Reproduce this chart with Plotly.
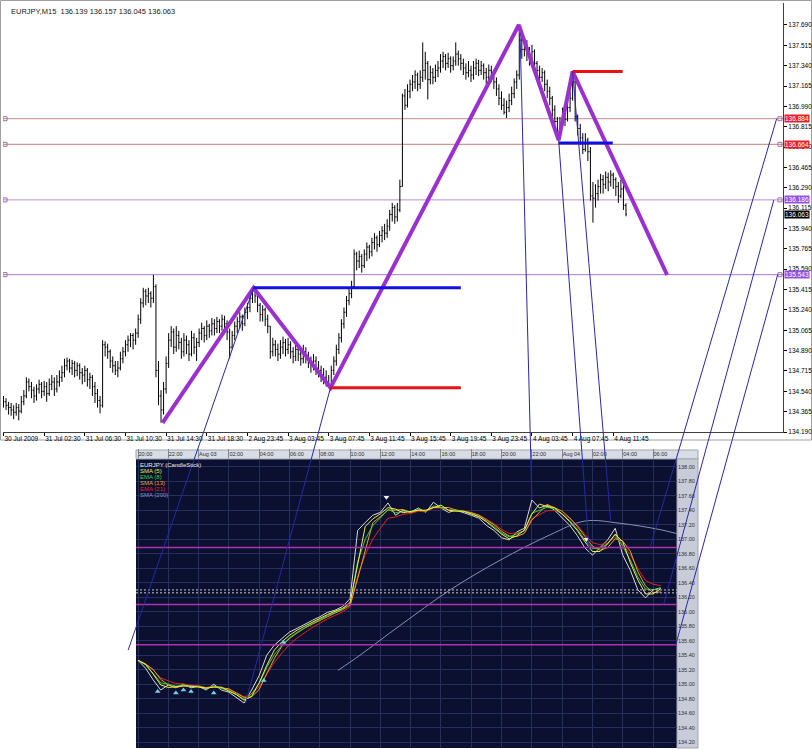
import plotly.graph_objects as go
import pandas as pd

W, H = 812, 750

# ---------------- top chart (EURJPY, M15) ----------------
top_tick_bars = [0, 16, 32, 48, 64, 80, 96, 112, 128, 144, 160, 176, 192, 208, 224, 240]
top_tick_labels = ["30 Jul 2009", "31 Jul 02:30", "31 Jul 06:30", "31 Jul 10:30", "31 Jul 14:30",
                   "31 Jul 18:30", "2 Aug 23:45", "3 Aug 03:45", "3 Aug 07:45", "3 Aug 11:45",
                   "3 Aug 15:45", "3 Aug 19:45", "3 Aug 23:45", "4 Aug 03:45", "4 Aug 07:45",
                   "4 Aug 11:45"]
top_price_ticks = [134.190, 134.365, 134.540, 134.715, 134.890, 135.065, 135.240, 135.415,
                   135.590, 135.765, 135.940, 136.115, 136.290, 136.465, 136.640, 136.815,
                   136.990, 137.165, 137.340, 137.515, 137.690]

first_open = 134.47
highs = [134.50, 134.48, 134.45, 134.44, 134.42, 134.44, 134.43, 134.50, 134.55, 134.66,
         134.65, 134.62, 134.58, 134.60, 134.64, 134.62, 134.63, 134.62, 134.65, 134.68,
         134.66, 134.68, 134.72, 134.76, 134.82, 134.83, 134.82, 134.81, 134.80, 134.79,
         134.78, 134.74, 134.76, 134.74, 134.70, 134.68, 134.62, 134.56, 134.50, 134.98,
         134.97, 134.95, 134.90, 134.84, 134.80, 134.80, 134.88, 134.92, 134.98, 135.02,
         135.04, 135.04, 135.08, 135.20, 135.34, 135.43, 135.42, 135.43, 135.40, 135.54,
         135.46, 134.80, 134.55, 134.62, 134.84, 135.04, 135.10, 135.08, 135.10, 135.06,
         135.00, 135.04, 135.02, 134.98, 135.06, 135.04, 135.00, 135.08, 135.13, 135.10,
         135.15, 135.12, 135.17, 135.16, 135.18, 135.16, 135.20, 135.19, 135.15, 135.08,
         135.06, 135.14, 135.18, 135.22, 135.20, 135.26, 135.30, 135.38, 135.43, 135.42,
         135.38, 135.30, 135.28, 135.26, 135.20, 135.10, 135.00, 134.98, 134.95, 134.98,
         135.01, 134.99, 135.00, 134.97, 134.92, 134.96, 134.94, 134.90, 134.94, 134.92,
         134.88, 134.84, 134.86, 134.84, 134.80, 134.76, 134.74, 134.72, 134.68, 134.76,
         134.84, 134.94, 135.04, 135.16, 135.26, 135.36, 135.42, 135.49, 135.76, 135.74,
         135.75, 135.72, 135.76, 135.82, 135.80, 135.86, 135.90, 135.88, 135.92, 135.96,
         135.98, 136.02, 136.10, 136.16, 136.14, 136.16, 136.36, 137.10, 137.14, 137.18,
         137.22, 137.26, 137.30, 137.28, 137.30, 137.54, 137.46, 137.38, 137.34, 137.32,
         137.35, 137.38, 137.44, 137.46, 137.44, 137.45, 137.42, 137.42, 137.54, 137.47,
         137.44, 137.40, 137.36, 137.38, 137.34, 137.38, 137.40, 137.39, 137.38, 137.36,
         137.32, 137.35, 137.34, 137.30, 137.24, 137.18, 137.12, 137.06, 137.04, 137.10,
         137.16, 137.23, 137.30, 137.69, 137.62, 137.58, 137.56, 137.50, 137.52, 137.48,
         137.38, 137.34, 137.32, 137.30, 137.22, 137.16, 137.08, 137.00, 136.90, 136.90,
         136.98, 136.96, 137.04, 137.12, 137.29, 137.22, 136.92, 136.84, 136.76, 136.76,
         136.72, 136.64, 136.34, 136.32, 136.36, 136.41, 136.40, 136.43, 136.42, 136.44,
         136.42, 136.38, 136.34, 136.36, 136.32, 136.157]
lows = [134.40, 134.38, 134.34, 134.33, 134.30, 134.33, 134.29, 134.35, 134.42, 134.48,
        134.54, 134.48, 134.44, 134.46, 134.52, 134.48, 134.50, 134.45, 134.50, 134.55,
        134.50, 134.53, 134.58, 134.62, 134.66, 134.72, 134.70, 134.68, 134.66, 134.67,
        134.64, 134.60, 134.62, 134.58, 134.56, 134.50, 134.44, 134.40, 134.35, 134.40,
        134.84, 134.82, 134.74, 134.70, 134.68, 134.66, 134.72, 134.78, 134.84, 134.88,
        134.92, 134.90, 134.94, 135.00, 135.12, 135.26, 135.28, 135.30, 135.26, 135.30,
        134.66, 134.42, 134.27, 134.34, 134.52, 134.74, 134.92, 134.86, 134.88, 134.90,
        134.82, 134.84, 134.86, 134.80, 134.84, 134.86, 134.80, 134.92, 134.98, 134.96,
        134.98, 135.00, 135.02, 135.02, 135.04, 135.04, 135.06, 135.06, 134.98, 134.82,
        134.90, 134.98, 135.04, 135.08, 135.06, 135.10, 135.16, 135.22, 135.30, 135.30,
        135.22, 135.14, 135.14, 135.10, 135.04, 134.82, 134.84, 134.84, 134.80, 134.82,
        134.86, 134.84, 134.86, 134.82, 134.78, 134.80, 134.80, 134.76, 134.78, 134.78,
        134.74, 134.70, 134.72, 134.68, 134.66, 134.62, 134.60, 134.58, 134.57, 134.58,
        134.68, 134.76, 134.86, 134.96, 135.08, 135.18, 135.28, 135.34, 135.42, 135.58,
        135.60, 135.56, 135.60, 135.66, 135.68, 135.70, 135.76, 135.74, 135.78, 135.82,
        135.84, 135.86, 135.92, 136.00, 135.98, 136.00, 136.08, 136.30, 136.96, 136.98,
        137.06, 137.12, 137.14, 137.12, 137.14, 137.20, 137.22, 137.05, 137.18, 137.18,
        137.20, 137.24, 137.28, 137.32, 137.30, 137.32, 137.28, 137.30, 137.34, 137.34,
        137.30, 137.26, 137.22, 137.24, 137.20, 137.22, 137.26, 137.25, 137.26, 137.22,
        137.18, 137.20, 137.20, 137.14, 137.08, 137.00, 136.96, 136.92, 136.89, 136.94,
        137.00, 137.06, 137.14, 137.22, 137.40, 137.42, 137.38, 137.34, 137.36, 137.30,
        137.24, 137.18, 137.20, 137.12, 137.06, 137.00, 136.90, 136.80, 136.71, 136.74,
        136.80, 136.82, 136.86, 136.94, 137.04, 136.86, 136.74, 136.66, 136.58, 136.60,
        136.52, 136.18, 135.99, 136.12, 136.18, 136.24, 136.24, 136.28, 136.26, 136.30,
        136.28, 136.22, 136.16, 136.20, 136.10, 136.045]
closes = [134.45, 134.42, 134.40, 134.38, 134.36, 134.40, 134.37, 134.45, 134.50, 134.62,
          134.58, 134.55, 134.50, 134.56, 134.60, 134.54, 134.58, 134.52, 134.60, 134.62,
          134.56, 134.62, 134.66, 134.70, 134.76, 134.80, 134.74, 134.78, 134.72, 134.76,
          134.70, 134.68, 134.72, 134.64, 134.66, 134.58, 134.52, 134.46, 134.42, 134.94,
          134.92, 134.88, 134.80, 134.76, 134.72, 134.74, 134.82, 134.88, 134.94, 134.98,
          135.02, 134.98, 135.04, 135.16, 135.30, 135.40, 135.36, 135.38, 135.34, 135.44,
          134.72, 134.50, 134.38, 134.56, 134.78, 134.98, 135.05, 134.92, 135.02, 134.96,
          134.88, 134.98, 134.94, 134.86, 135.00, 134.92, 134.96, 135.04, 135.08, 135.02,
          135.10, 135.06, 135.12, 135.08, 135.14, 135.10, 135.16, 135.12, 135.05, 134.92,
          135.02, 135.10, 135.14, 135.18, 135.12, 135.22, 135.26, 135.34, 135.40, 135.36,
          135.28, 135.20, 135.24, 135.16, 135.10, 134.88, 134.94, 134.90, 134.86, 134.92,
          134.96, 134.90, 134.94, 134.88, 134.84, 134.90, 134.86, 134.82, 134.88, 134.84,
          134.80, 134.76, 134.80, 134.74, 134.72, 134.68, 134.66, 134.62, 134.60, 134.72,
          134.80, 134.90, 135.00, 135.12, 135.22, 135.32, 135.38, 135.44, 135.72, 135.66,
          135.70, 135.62, 135.72, 135.78, 135.74, 135.82, 135.86, 135.80, 135.88, 135.92,
          135.90, 135.96, 136.06, 136.12, 136.04, 136.10, 136.30, 137.08, 137.00, 137.12,
          137.18, 137.20, 137.26, 137.18, 137.24, 137.30, 137.36, 137.22, 137.28, 137.24,
          137.30, 137.32, 137.38, 137.42, 137.36, 137.40, 137.34, 137.38, 137.44, 137.40,
          137.36, 137.32, 137.28, 137.30, 137.26, 137.32, 137.36, 137.30, 137.34, 137.28,
          137.24, 137.30, 137.26, 137.20, 137.14, 137.06, 137.00, 136.94, 136.98, 137.04,
          137.10, 137.20, 137.26, 137.56, 137.48, 137.52, 137.44, 137.40, 137.46, 137.36,
          137.30, 137.24, 137.28, 137.18, 137.12, 137.06, 136.96, 136.86, 136.78, 136.84,
          136.92, 136.88, 136.98, 137.06, 137.20, 136.90, 136.80, 136.72, 136.62, 136.70,
          136.60, 136.22, 136.20, 136.24, 136.30, 136.36, 136.32, 136.38, 136.34, 136.40,
          136.36, 136.30, 136.22, 136.28, 136.139, 136.063]
bars = list(range(len(closes)))
opens = [first_open] + closes[:-1]
highs = [max(h, o, c) for h, o, c in zip(highs, opens, closes)]
lows = [min(l, o, c) for l, o, c in zip(lows, opens, closes)]

# wave drawing (bar index, price)
zigzag_bar = [62.6, 98.4, 128.7, 202.8, 218.5, 224.0, 261.2]
zigzag_price = [134.268, 135.43, 134.57, 137.69, 136.70, 137.29, 135.54]
blue_segments = [((98.4, 180.0), 135.43), ((218.5, 239.8), 136.675)]
red_segments = [((128.7, 180.0), 134.57), ((224.0, 243.7), 137.29)]
level_prices = [136.884, 136.664, 136.186, 135.543]
level_colors = ["#c88c8c", "#c87878", "#b48ce0", "#a878d8"]
level_label_bg = ["#e8202a", "#e8202a", "#9650e0", "#9650e0"]
last_price = 136.063

# ---------------- bottom chart (5-min style view) ----------------
bot_tick_hours = list(range(0, 36, 2))
bot_tick_labels = ["20:00", "22:00", "Aug 03", "02:00", "04:00", "06:00", "08:00", "10:00", "12:00",
                   "14:00", "16:00", "18:00", "20:00", "22:00", "Aug 04", "02:00", "04:00", "06:00"]
bot_price_ticks = [134.20, 134.40, 134.60, 134.80, 135.00, 135.20, 135.40, 135.60, 135.80, 136.00,
                   136.20, 136.40, 136.60, 136.80, 137.00, 137.20, 137.40, 137.60, 137.80, 138.00]
bot_hours = [0, 0.5, 1, 1.5, 2, 2.5, 3, 3.5, 4, 4.5, 5, 5.5, 6, 6.5, 7, 7.5, 8, 8.5, 9, 9.5,
             10, 10.5, 11, 11.5, 12, 12.5, 13, 13.5, 14, 14.5, 15, 15.5, 16, 16.5, 17, 17.5,
             18, 18.5, 19, 19.5, 20, 20.5, 21, 21.5, 22, 22.5, 23, 23.5, 24, 24.5, 25, 25.5,
             26, 26.5, 27, 27.5, 28, 28.5, 29, 29.5, 30, 30.5, 31, 31.5, 32, 32.5, 33, 33.5,
             34, 34.5]
bot_price = [135.33, 135.22, 135.06, 134.92, 134.99, 134.95, 135.00, 134.95, 134.97, 134.92,
             135.00, 134.92, 134.89, 134.82, 134.74, 134.92, 135.12, 135.40, 135.54, 135.63,
             135.72, 135.77, 135.83, 135.88, 135.93, 135.99, 136.02, 136.07, 136.18, 137.12,
             137.23, 137.33, 137.37, 137.50, 137.33, 137.40, 137.37, 137.43, 137.37, 137.51,
             137.43, 137.37, 137.40, 137.37, 137.33, 137.29, 137.19, 137.12, 137.02, 136.99,
             137.10, 137.15, 137.54, 137.43, 137.47, 137.40, 137.29, 137.19, 137.05, 136.88,
             136.78, 136.88, 136.99, 137.15, 136.78, 136.57, 136.30, 136.19, 136.30, 136.33]
sma200_hours = [13.2, 14.65, 17.3, 20.6, 23.9, 27.2, 29.5, 31.8, 34.5, 36.4]
sma200_price = [135.19, 135.40, 135.81, 136.30, 136.71, 137.06, 137.25, 137.22, 137.13, 137.03]
bot_levels = [136.884, 136.10, 135.543]
bot_bidask = [136.30, 136.26]
# small signal markers on the lower chart
bot_up_marker_hours = [1.3, 2.5, 3.0, 3.5, 5.0, 8.3, 9.6]
bot_up_marker_price = [134.90, 134.88, 134.92, 134.90, 134.88, 135.05, 135.58]
bot_dn_marker_hours = [16.4, 29.6]
bot_dn_marker_price = [137.58, 137.00]

# connectors: (top bar, top price) -> (bottom hour, bottom price)
connectors = [((98.4, 135.43), (-0.65, 135.47)),
              ((128.7, 134.57), (7.1, 134.74)),
              ((203.3, 137.62), (26.0, 137.56)),
              ((218.5, 136.70), (29.8, 136.80)),
              ((224.0, 137.29), (31.2, 137.26))]
connectors_right = [((304.3, 136.884), (33.8, 136.884)),
                    ((303.2, 136.186), (34.7, 136.10)),
                    ((304.7, 135.543), (35.5, 135.543))]

# ---------------- geometry (pixels of the 812x750 canvas) ----------------
TX = (3, 783); TY = (3, 432)
TXR = [-0.2, 306.8]; TYR = [134.190, 137.879]
BX = (136, 677); BY = (459, 748)
BXR = [-0.132, 35.58]; BYR = [134.12, 138.106]


def dom_x(px):
    return [px[0] / W, px[1] / W]


def dom_y(py):
    return [1 - py[1] / H, 1 - py[0] / H]


def to_paper(v, rng, dom):
    return dom[0] + (v - rng[0]) / (rng[1] - rng[0]) * (dom[1] - dom[0])


FONT = "Liberation Sans"
fig = go.Figure()

fig.add_trace(go.Ohlc(x=bars, open=opens, high=highs, low=lows, close=closes,
                      increasing_line_color="black", decreasing_line_color="black",
                      line_width=1, tickwidth=0.4, hoverinfo="skip", xaxis="x", yaxis="y"))

fig.add_trace(go.Scatter(x=zigzag_bar, y=zigzag_price, mode="lines",
                         line=dict(color="#9b30d0", width=4), hoverinfo="skip"))
for (x0, x1), p in blue_segments:
    fig.add_trace(go.Scatter(x=[x0, x1], y=[p, p], mode="lines",
                             line=dict(color="#1010e0", width=3), hoverinfo="skip"))
for (x0, x1), p in red_segments:
    fig.add_trace(go.Scatter(x=[x0, x1], y=[p, p], mode="lines",
                             line=dict(color="#e81010", width=3), hoverinfo="skip"))

shapes = []
annotations = []
for p, c, bg in zip(level_prices, level_colors, level_label_bg):
    shapes.append(dict(type="line", xref="x domain", yref="y", x0=0, x1=1, y0=p, y1=p,
                       line=dict(color=c, width=1), layer="below"))
    annotations.append(dict(xref="x domain", yref="y", x=1.0, y=p, text="%.3f" % p,
                            showarrow=False, xanchor="left", yanchor="middle", xshift=1,
                            bgcolor=bg, font=dict(color="white", size=6.5, family=FONT),
                            borderpad=0))
fig.add_trace(go.Scatter(x=[0.6] * len(level_prices) + [305.6] * len(level_prices),
                         y=level_prices + level_prices, mode="markers",
                         marker=dict(symbol="square-open", size=4, color="#a070a0", line=dict(width=1)),
                         hoverinfo="skip"))
annotations.append(dict(xref="x domain", yref="y", x=1.0, y=last_price, text="%.3f" % last_price,
                        showarrow=False, xanchor="left", yanchor="middle", xshift=1,
                        bgcolor="black", font=dict(color="white", size=6.5, family=FONT),
                        borderpad=0))
annotations.append(dict(xref="x domain", yref="y domain", x=0.008, y=0.995,
                        text="EURJPY,M15  136.139 136.157 136.045 136.063", showarrow=False,
                        xanchor="left", yanchor="top",
                        font=dict(color="#202020", size=7.5, family=FONT)))

# ---- bottom chart ----
s = pd.Series(bot_price)
sma5 = s.rolling(2, min_periods=1).mean()
ema8 = s.ewm(span=2.5, adjust=False).mean()
sma13 = s.rolling(3, min_periods=1).mean()
ema21 = s.ewm(span=4, adjust=False).mean()

for ser, col, wd in [(s, "#d8d8d8", 1), (ema21, "#e02020", 1), (sma13, "#f0a020", 1),
                     (ema8, "#30d030", 1), (sma5, "#f0f040", 1)]:
    fig.add_trace(go.Scatter(x=bot_hours, y=list(ser), mode="lines", line=dict(color=col, width=wd),
                             xaxis="x2", yaxis="y2", hoverinfo="skip"))
fig.add_trace(go.Scatter(x=sma200_hours, y=sma200_price, mode="lines",
                         line=dict(color="#8890b8", width=1, shape="spline"),
                         xaxis="x2", yaxis="y2", hoverinfo="skip"))
fig.add_trace(go.Scatter(x=bot_up_marker_hours, y=bot_up_marker_price, mode="markers",
                         marker=dict(symbol="triangle-up", size=5, color="#70d0f0"),
                         xaxis="x2", yaxis="y2", hoverinfo="skip"))
fig.add_trace(go.Scatter(x=bot_dn_marker_hours, y=bot_dn_marker_price, mode="markers",
                         marker=dict(symbol="triangle-down", size=5, color="#f0f0f0"),
                         xaxis="x2", yaxis="y2", hoverinfo="skip"))

shapes.append(dict(type="rect", xref="x2 domain", yref="y2 domain", x0=0, x1=1, y0=0, y1=1,
                   fillcolor="#0b1030", line=dict(width=0), layer="below"))
for p in bot_levels:
    shapes.append(dict(type="line", xref="x2 domain", yref="y2", x0=0, x1=1, y0=p, y1=p,
                       line=dict(color="#b030b0", width=1.5)))
for p in bot_bidask:
    shapes.append(dict(type="line", xref="x2 domain", yref="y2", x0=0, x1=1, y0=p, y1=p,
                       line=dict(color="#c8c8c8", width=1, dash="2px,2px")))
# header strip and right price panel of the lower chart
shapes.append(dict(type="rect", xref="paper", yref="paper", x0=BX[0] / W, x1=698 / W,
                   y0=1 - BY[0] / H, y1=1 - 450 / H, fillcolor="#d8dce4",
                   line=dict(color="#a0a4b0", width=1), layer="below"))
shapes.append(dict(type="rect", xref="paper", yref="paper", x0=BX[1] / W, x1=698 / W,
                   y0=1 - BY[1] / H, y1=1 - BY[0] / H, fillcolor="#c8ccd8",
                   line=dict(color="#a0a4b0", width=1), layer="below"))

legend_items = [("EURJPY (CandleStick)", "#e8e8e8"), ("SMA (5)", "#f0f040"), ("EMA (8)", "#30d030"),
                ("SMA (13)", "#f0a020"), ("EMA (21)", "#e02020"), ("SMA (200)", "#8890d0")]
for i, (t, c) in enumerate(legend_items):
    annotations.append(dict(xref="x2 domain", yref="y2 domain", x=0.004, y=1 - 0.005 - i * 0.0205, text=t,
                            showarrow=False, xanchor="left", yanchor="top",
                            font=dict(color=c, size=6, family=FONT)))

# connectors
tdx, tdy, bdx, bdy = dom_x(TX), dom_y(TY), dom_x(BX), dom_y(BY)
for (tb, tp), (bh, bp) in connectors + connectors_right:
    shapes.append(dict(type="line", xref="paper", yref="paper",
                       x0=to_paper(tb, TXR, tdx), y0=to_paper(tp, TYR, tdy),
                       x1=to_paper(bh, BXR, bdx), y1=to_paper(bp, BYR, bdy),
                       line=dict(color="#2828a8", width=1)))

# outer frame of the top chart
shapes.append(dict(type="rect", xref="paper", yref="paper", x0=0.5 / W, x1=811.5 / W, y0=1 - 440 / H,
                   y1=1 - 0.5 / H, line=dict(color="#a0a0a0", width=1), layer="below"))

fig.update_layout(
    width=W, height=H, margin=dict(l=0, r=0, t=0, b=0, autoexpand=False),
    paper_bgcolor="white", plot_bgcolor="white", showlegend=False,
    font=dict(family=FONT, size=8, color="black"),
    xaxis=dict(domain=dom_x(TX), range=TXR, tickvals=top_tick_bars, ticktext=top_tick_labels,
               ticks="outside", ticklen=3, tickcolor="black", showline=True, linecolor="#404040",
               mirror=False, showgrid=False, zeroline=False, rangeslider=dict(visible=False),
               ticklabelposition="outside right", tickangle=0, automargin=False,
               tickfont=dict(size=6.5, family=FONT), anchor="y"),
    yaxis=dict(domain=dom_y(TY), range=TYR, side="right", tickvals=top_price_ticks,
               ticktext=["%.3f" % v for v in top_price_ticks], ticks="outside", ticklen=3,
               tickcolor="black", showline=True, linecolor="#404040", showgrid=False, zeroline=False,
               ticklabelstandoff=0, automargin=False,
               tickfont=dict(size=6.5, family=FONT), anchor="x"),
    xaxis2=dict(domain=dom_x(BX), range=BXR, tickvals=bot_tick_hours, ticktext=bot_tick_labels,
                side="top", ticks="outside", ticklen=9, tickcolor="#808890", showgrid=True,
                gridcolor="#26305a", zeroline=False, showline=False, tickangle=0, automargin=False,
                ticklabelposition="outside right", tickfont=dict(size=5.5, color="#303030", family=FONT),
                anchor="y2"),
    yaxis2=dict(domain=dom_y(BY), range=BYR, side="right", tickvals=bot_price_ticks,
                ticktext=["%.2f" % v for v in bot_price_ticks], ticks="", showgrid=True,
                gridcolor="#26305a", zeroline=False, showline=False, automargin=False,
                ticklabelstandoff=0,
                tickfont=dict(size=5.5, color="#303030", family=FONT), anchor="x2"),
    shapes=shapes, annotations=annotations,
)

fig.write_html("out.html", config={"displayModeBar": False},
               post_script="document.body.style.margin='0';document.body.style.overflow='hidden';")
